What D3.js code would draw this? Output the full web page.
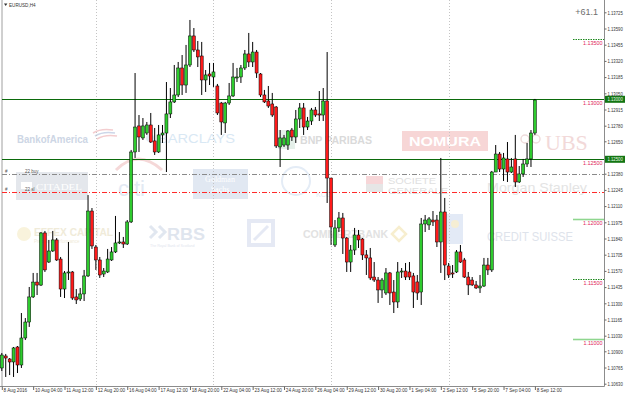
<!DOCTYPE html>
<html><head><meta charset="utf-8">
<script src="https://cdn.jsdelivr.net/npm/d3@7"></script>
<style>
body{margin:0;background:#fff;}
svg{display:block;font-family:"Liberation Sans",Arial,sans-serif;}
</style>
</head><body>
<svg id="chart" width="625" height="397"></svg>
<script>
// ---------- data (EURUSD H4, bar 0 = 8 Aug 2016 20:00) ----------
const opens = [
1.10761,1.10861,1.10836,1.10811,1.10936,1.10786,1.11011,1.11144,1.11353,1.11477,
1.11452,1.11886,1.11644,1.11736,1.11828,1.11669,1.11419,1.11553,1.11561,1.11353,
1.11336,1.11378,1.11528,1.12069,1.11769,1.11661,1.11544,1.11561,1.11661,1.11728,
1.11803,1.11811,1.11794,1.11978,1.12561,1.12778,1.12678,1.12719,1.12786,1.12653,
1.12561,1.12703,1.12719,1.12878,1.12978,1.13036,1.13261,1.13119,1.13286,1.13528,
1.13411,1.13361,1.13161,1.13211,1.13186,1.13111,1.12969,1.12803,1.12969,1.13028,
1.13178,1.13186,1.13261,1.13378,1.13311,1.13394,1.13211,1.13036,1.12986,1.12961,
1.12936,1.12603,1.12619,1.12619,1.12744,1.12686,1.12836,1.12928,1.12769,1.12819,
1.12911,1.12878,1.12869,1.12986,1.12344,1.11786,1.11928,1.12011,1.11844,1.11644,
1.11744,1.11869,1.11836,1.11703,1.11678,1.11519,1.11494,1.11411,1.11386,1.11553,
1.11394,1.11311,1.11561,1.11569,1.11561,1.11528,1.11478,1.11394,1.11961,1.11953,
1.11994,1.11994,1.11811,1.12061,1.11611,1.11553,1.11561,1.11728,1.11661,1.11519,
1.11494,1.11453,1.11428,1.11444,1.11619,1.11578,1.12394,1.12544,1.12419,1.12503,
1.12394,1.12503,1.12311,1.12378,1.12461,1.12503,1.12719];
const highs = [
1.10886,1.10878,1.10844,1.10936,1.10944,1.11219,1.11177,1.11436,1.11553,1.11553,
1.11894,1.11903,1.11828,1.11903,1.11844,1.11686,1.11569,1.11811,1.11569,1.11419,
1.11428,1.11578,1.12202,1.12094,1.11786,1.11686,1.11594,1.11753,1.11769,1.12028,
1.11894,1.11853,1.11994,1.12578,1.13219,1.12869,1.12844,1.12811,1.12886,1.12761,
1.12786,1.12786,1.13144,1.13094,1.13286,1.13311,1.13369,1.13453,1.13661,1.13594,
1.13486,1.13478,1.13244,1.13303,1.13303,1.13128,1.12978,1.12978,1.13136,1.13303,
1.13261,1.13286,1.13411,1.13553,1.13478,1.13411,1.13219,1.13078,1.13111,1.13053,
1.12944,1.12744,1.12703,1.12744,1.12761,1.12911,1.12969,1.12969,1.12853,1.12928,
1.12936,1.13069,1.13094,1.13394,1.12344,1.11994,1.12061,1.12053,1.11853,1.11786,
1.11928,1.11911,1.11844,1.11744,1.11761,1.11644,1.11519,1.11511,1.11594,1.11561,
1.11494,1.11644,1.11594,1.11636,1.11644,1.11553,1.11536,1.12011,1.12036,1.12019,
1.12069,1.12036,1.12511,1.12178,1.11636,1.11619,1.11744,1.11786,1.11678,1.11561,
1.11519,1.11486,1.11536,1.11678,1.11678,1.12403,1.12619,1.12561,1.12553,1.12644,
1.12511,1.12703,1.12444,1.12503,1.12636,1.12744,1.13003];
const lows = [
1.10736,1.10686,1.10702,1.10686,1.10719,1.10761,1.10994,1.11103,1.11344,1.11369,
1.11444,1.11561,1.11636,1.11728,1.11653,1.11353,1.11344,1.11494,1.11328,1.11294,
1.11319,1.11319,1.11519,1.11753,1.11578,1.11511,1.11519,1.11553,1.11653,1.11719,
1.11794,1.11761,1.11786,1.11969,1.12511,1.12561,1.12661,1.12703,1.12636,1.12536,
1.12553,1.12636,1.12394,1.12844,1.12969,1.13019,1.13036,1.13053,1.13269,1.13394,
1.13269,1.13036,1.13061,1.13119,1.13103,1.12869,1.12703,1.12719,1.12953,1.13019,
1.13144,1.13136,1.13244,1.13269,1.13269,1.13178,1.13019,1.12969,1.12928,1.12853,
1.12594,1.12436,1.12603,1.12578,1.12653,1.12636,1.12761,1.12703,1.12744,1.12786,
1.12853,1.12819,1.12819,1.12136,1.11786,1.11769,1.11894,1.11711,1.11561,1.11561,
1.11703,1.11761,1.11661,1.11536,1.11494,1.11478,1.11303,1.11344,1.11369,1.11286,
1.11219,1.11261,1.11511,1.11494,1.11494,1.11261,1.11328,1.11286,1.11894,1.11911,
1.11944,1.11769,1.11553,1.11494,1.11511,1.11511,1.11553,1.11636,1.11511,1.11369,
1.11444,1.11419,1.11386,1.11436,1.11536,1.11561,1.12394,1.12394,1.12319,1.12311,
1.12386,1.12269,1.12303,1.12353,1.12436,1.12436,1.12703];
const closes = [
1.10869,1.10844,1.10811,1.10928,1.10786,1.11011,1.11144,1.11353,1.11477,1.11452,
1.11886,1.11578,1.11736,1.11828,1.11661,1.11419,1.11553,1.11561,1.11344,1.11328,
1.11378,1.11528,1.12069,1.11778,1.11661,1.11536,1.11569,1.11669,1.11728,1.11803,
1.11811,1.11794,1.11978,1.12561,1.12769,1.12686,1.12778,1.12786,1.12644,1.12561,
1.12703,1.12719,1.12878,1.12978,1.13036,1.13261,1.13119,1.13286,1.13528,1.13411,
1.13353,1.13161,1.13203,1.13194,1.13228,1.12886,1.12811,1.12969,1.13028,1.13186,
1.13186,1.13261,1.13378,1.13311,1.13394,1.13219,1.13036,1.12978,1.12944,1.12869,
1.12611,1.12678,1.12678,1.12736,1.12686,1.12836,1.12928,1.12769,1.12819,1.12911,
1.12869,1.12869,1.12986,1.12344,1.11936,1.11928,1.12011,1.11844,1.11644,1.11744,
1.11869,1.11828,1.11703,1.11678,1.11511,1.11494,1.11411,1.11494,1.11553,1.11386,
1.11311,1.11561,1.11569,1.11519,1.11519,1.11394,1.11386,1.11961,1.11994,1.12003,
1.11978,1.11811,1.12061,1.11619,1.11536,1.11544,1.11728,1.11644,1.11519,1.11453,
1.11453,1.11428,1.11444,1.11619,1.11578,1.12394,1.12544,1.12419,1.12511,1.12394,
1.12436,1.12311,1.12378,1.12461,1.12503,1.12719,1.12994];

const xTickLabels = ["8 Aug 2016","10 Aug 04:00","11 Aug 12:00","12 Aug 20:00","16 Aug 04:00",
  "17 Aug 12:00","18 Aug 20:00","22 Aug 04:00","23 Aug 12:00","24 Aug 20:00","26 Aug 04:00",
  "29 Aug 12:00","30 Aug 20:00","1 Sep 04:00","2 Sep 12:00","5 Sep 20:00","7 Sep 04:00","8 Sep 12:00"];
const xTickBars = [0,8,16,24,32,40,48,56,64,72,80,88,96,104,112,120,128,136];
const gridBars = [24,54,84,114];

const yTickValues = [1.13725,1.13590,1.13455,1.13320,1.13185,1.13050,1.12915,1.12780,1.12650,1.12515,
  1.12380,1.12245,1.12110,1.11975,1.11840,1.11705,1.11570,1.11435,1.11300,1.11165,1.11030,1.10900,1.10765,1.10630];

const mainLevels = [1.13000, 1.12500];           // horizontal lines + axis boxes
const targetLevels = [1.13500, 1.12000, 1.11500, 1.11000];
const targetDashed = [true, false, true, false];
const orderLevels = [1.12375, 1.12225];          // "22 buy", "22 sl"
const orderNames = ["22 buy", "22 sl"];
const orderColors = ["#8a8a8a", "#ff2a2a"];
const profitText = "+61.1";
const symbolText = "EURUSD,H4";

// ---------- layout ----------
const W = 625, H = 397, plotRight = 604.5, plotBottom = 386.5, plotLeft = 2;
const svg = d3.select("#chart");
const x = d3.scaleLinear().domain([0, 136]).range([1.8, 534.9]);
const y = d3.scaleLinear().domain([1.125, 1.13]).range([159.3, 99.3]);

svg.append("rect").attr("width", W).attr("height", H).attr("fill", "#ffffff");

// ---------- faint broker watermarks ----------
const wm = svg.append("g").attr("class", "watermarks");
function wtext(t, xx, yy, size, color, opts = {}) {
  const el = wm.append("text").attr("x", xx).attr("y", yy).text(t)
    .attr("font-size", size).attr("fill", color)
    .attr("font-weight", opts.weight || "bold")
    .attr("font-family", opts.family || "Liberation Sans, Arial, sans-serif");
  if (opts.len) el.attr("textLength", opts.len).attr("lengthAdjust", "spacingAndGlyphs");
  if (opts.anchor) el.attr("text-anchor", opts.anchor);
  return el;
}
// Bank of America
wtext("BankofAmerica", 17, 143, 10.5, "#cdd6e5", {len: 71});
[0,1,2].forEach(k => wm.append("path").attr("d", `M${93 + k*2},${133 + k*3} q8,-5 20,-3`)
  .attr("stroke", k === 1 ? "#ccd6e8" : "#f3cdcf").attr("stroke-width", 1.6).attr("fill", "none"));
// Barclays
wtext("BARCLAYS", 158, 143, 13, "#d9e8f4", {weight: "normal", len: 77});
wm.append("circle").attr("cx", 150).attr("cy", 138).attr("r", 4).attr("fill", "#e0ebf5");
// BNP Paribas
wm.append("rect").attr("x", 278).attr("y", 130).attr("width", 17).attr("height", 19).attr("fill", "#e5f0ea");
wtext("BNP PARIBAS", 300, 144, 10.5, "#dadada", {len: 72});
// Nomura
wm.append("rect").attr("x", 402).attr("y", 131).attr("width", 86).attr("height", 20).attr("fill", "#f7d6d6");
wtext("NOMURA", 445, 146, 13.5, "#ffffff", {anchor: "middle", len: 72});
// UBS
wm.append("circle").attr("cx", 525).attr("cy", 139).attr("r", 4).attr("fill", "none").attr("stroke", "#efdcdc").attr("stroke-width", 1.5);
wm.append("circle").attr("cx", 536).attr("cy", 139).attr("r", 4).attr("fill", "none").attr("stroke", "#efdcdc").attr("stroke-width", 1.5);
wtext("UBS", 545, 150, 22, "#f2d9d9", {weight: "normal", family: "Liberation Serif, serif"});
// Citadel
wm.append("rect").attr("x", 16).attr("y", 172).attr("width", 72).attr("height", 28).attr("fill", "#e4e7ec");
wtext("CITADEL", 36, 190, 8.5, "#ffffff", {weight: "normal", family: "Liberation Serif, serif", len: 46});
wm.append("rect").attr("x", 21).attr("y", 182).attr("width", 11).attr("height", 7).attr("fill", "#ffffff");
// Citi
wm.append("path").attr("d", "M116,170 Q138,148 162,170").attr("stroke", "#f5d8d8").attr("stroke-width", 3).attr("fill", "none");
wtext("citi", 118, 196, 22, "#e2e9f3", {weight: "normal"});
// Goldman Sachs
wm.append("rect").attr("x", 193).attr("y", 169).attr("width", 55).attr("height", 30).attr("fill", "#e1e8f2");
wtext("Goldman", 220, 182, 8, "#ffffff", {weight: "normal", family: "Liberation Serif, serif", anchor: "middle"});
wtext("Sachs", 220, 192, 8, "#ffffff", {weight: "normal", family: "Liberation Serif, serif", anchor: "middle"});
// KCG
wm.append("circle").attr("cx", 296).attr("cy", 181).attr("r", 14).attr("fill", "none").attr("stroke", "#e4ecf6").attr("stroke-width", 2);
wtext("KCG", 316, 197, 7, "#e4eaf3", {weight: "normal"});
// Societe Generale
wm.append("rect").attr("x", 366).attr("y", 176).attr("width", 17).attr("height", 8).attr("fill", "#f7d6d8");
wm.append("rect").attr("x", 366).attr("y", 184).attr("width", 17).attr("height", 8).attr("fill", "#e6e6e6");
wtext("SOCIETE", 388, 184, 8.5, "#e0e0e0", {weight: "normal", len: 48});
wtext("GENERALE", 388, 194, 8.5, "#e0e0e0", {weight: "normal", len: 60});
// Morgan Stanley
wtext("Morgan Stanley", 487, 192, 13, "#e4e4e4", {weight: "normal", len: 100});
// Effex Capital
wm.append("circle").attr("cx", 24).attr("cy", 234).attr("r", 7).attr("fill", "#f9f3dc");
wtext("EFFEX CAPITAL", 34, 236, 10, "#f0ebd9", {len: 79});
wtext("Precision Performance", 34, 243, 4.5, "#f0ebd9", {weight: "normal"});
// RBS
wm.append("path").attr("d", "M150,226 l6,6 l-6,6 m9,-12 l6,6 l-6,6").attr("stroke", "#e1e7f0").attr("stroke-width", 3).attr("fill", "none");
wtext("RBS", 167, 240, 16, "#dfe5ee", {len: 38});
wtext("The Royal Bank of Scotland", 150, 247, 3.6, "#dfe5ee", {weight: "normal"});
// Deutsche Bank
wm.append("rect").attr("x", 247).attr("y", 219).attr("width", 28).attr("height", 28).attr("fill", "#e5e9f4");
wm.append("rect").attr("x", 251).attr("y", 223).attr("width", 20).attr("height", 20).attr("fill", "#ffffff");
wm.append("line").attr("x1", 254).attr("y1", 240).attr("x2", 268).attr("y2", 226).attr("stroke", "#e5e9f4").attr("stroke-width", 3);
// Commerzbank
wtext("COMMERZBANK", 303, 238, 10, "#e2e2e2", {len: 85});
wm.append("path").attr("d", "M392,234 l7,-7 l7,7 l-7,7 z").attr("fill", "none").attr("stroke", "#f7eecf").attr("stroke-width", 2.5);
// RBC
wm.append("rect").attr("x", 447).attr("y", 214).attr("width", 16).attr("height", 30).attr("fill", "#e3eaf6");
wm.append("circle").attr("cx", 455).attr("cy", 224).attr("r", 4).attr("fill", "#f5eed4");
// Credit Suisse
wtext("CREDIT SUISSE", 487, 241, 12, "#dee3eb", {weight: "normal", len: 86});

// ---------- frame & grid ----------
svg.append("line").attr("x1", plotLeft).attr("x2", plotLeft).attr("y1", 0).attr("y2", plotBottom)
  .attr("stroke", "#a0a0a0").attr("stroke-width", 1);
svg.append("g").selectAll("line").data(gridBars).join("line")
  .attr("x1", d => Math.round(x(d)) + 0.5).attr("x2", d => Math.round(x(d)) + 0.5)
  .attr("y1", 0).attr("y2", plotBottom)
  .attr("stroke", "#c4c4c4").attr("stroke-width", 1).attr("stroke-dasharray", "1,2");

// order lines
orderLevels.forEach((lv, k) => {
  const yy = Math.round(y(lv)) + 0.5;
  svg.append("line").attr("x1", plotLeft).attr("x2", plotRight).attr("y1", yy).attr("y2", yy)
    .attr("stroke", orderColors[k]).attr("stroke-width", 1).attr("stroke-dasharray", "5,2,1,2");
  svg.append("text").attr("x", 5).attr("y", yy - 1.5).text("#").attr("font-size", 4.5).attr("fill", "#555");
  svg.append("text").attr("x", 25).attr("y", yy - 1.5).text(orderNames[k]).attr("font-size", 4.5).attr("fill", "#555");
});

// main horizontal levels
mainLevels.forEach(lv => {
  const yy = Math.round(y(lv)) + 0.5;
  svg.append("line").attr("x1", plotLeft).attr("x2", plotRight).attr("y1", yy).attr("y2", yy)
    .attr("stroke", "#0b6a0b").attr("stroke-width", 1.1);
});

// target short lines
targetLevels.forEach((lv, k) => {
  const yy = Math.round(y(lv)) + 0.5;
  svg.append("line").attr("x1", 573).attr("x2", plotRight).attr("y1", yy).attr("y2", yy)
    .attr("stroke", targetDashed[k] ? "#1f8a1f" : "#8fd68f")
    .attr("stroke-width", targetDashed[k] ? 1 : 1.6)
    .attr("stroke-dasharray", targetDashed[k] ? "1.5,1" : null);
});
[...mainLevels, ...targetLevels].forEach(lv => {
  svg.append("text").attr("x", 602.5).attr("y", y(lv) + 6).text(lv.toFixed(5))
    .attr("text-anchor", "end").attr("font-size", 5.4).attr("fill", "#e0245a");
});

// ---------- candles ----------
const idx = d3.range(opens.length);
const cg = svg.append("g");
cg.selectAll("line.wick").data(idx).join("line").attr("class", "wick")
  .attr("x1", i => x(i)).attr("x2", i => x(i))
  .attr("y1", i => y(highs[i])).attr("y2", i => y(lows[i]))
  .attr("stroke", "#000").attr("stroke-width", 1);
cg.selectAll("rect.body").data(idx).join("rect").attr("class", "body")
  .attr("x", i => x(i) - 1.5).attr("width", 3)
  .attr("y", i => y(Math.max(opens[i], closes[i])))
  .attr("height", i => Math.max(1, Math.abs(y(opens[i]) - y(closes[i]))))
  .attr("fill", i => closes[i] >= opens[i] ? "#2ecb2e" : "#ff1a1a")
  .attr("stroke", "#000").attr("stroke-width", 0.5);

// ---------- axes ----------
svg.append("line").attr("x1", plotRight).attr("x2", plotRight).attr("y1", 0).attr("y2", plotBottom)
  .attr("stroke", "#8c8c8c");
svg.append("line").attr("x1", 0).attr("x2", plotRight).attr("y1", plotBottom).attr("y2", plotBottom)
  .attr("stroke", "#8c8c8c");

// right price axis (labels hidden under the highlighted boxes are skipped)
const visibleY = yTickValues.filter(v => mainLevels.every(m => Math.abs(y(v) - y(m)) > 4.5));
const yAxis = d3.axisRight(y).tickValues(visibleY).tickSize(2).tickFormat(d => d.toFixed(5));
const gy = svg.append("g").attr("transform", `translate(${plotRight},0)`).call(yAxis);
gy.select(".domain").remove();
gy.selectAll(".tick line").attr("stroke", "#666");
gy.selectAll(".tick text").attr("font-size", 5.3).attr("fill", "#333")
  .attr("font-family", "Liberation Sans, Arial, sans-serif")
  .attr("x", 0).attr("dy", "0.32em")
  .attr("transform", "translate(3,0) scale(0.8,1)");

const xAxis = d3.axisBottom(x).tickValues(xTickBars).tickSize(3.5).tickPadding(0)
  .tickFormat((d, i) => xTickLabels[i]);
const gx = svg.append("g").attr("transform", `translate(0,${plotBottom})`).call(xAxis);
gx.select(".domain").remove();
gx.selectAll(".tick line").attr("stroke", "#666");
gx.selectAll(".tick text").attr("font-size", 5.3).attr("fill", "#333")
  .attr("font-family", "Liberation Sans, Arial, sans-serif")
  .attr("text-anchor", "start").attr("x", 1.5).attr("y", 2.2)
  .attr("transform", "scale(0.88,1)");

// highlighted axis boxes
mainLevels.forEach(lv => {
  const yy = y(lv);
  svg.append("rect").attr("x", 605).attr("y", yy - 3.5).attr("width", 20).attr("height", 7).attr("fill", "#137513");
  svg.append("text").attr("x", 0).attr("y", 0).text(lv.toFixed(5))
    .attr("transform", `translate(607.5,${yy + 1.9}) scale(0.8,1)`)
    .attr("font-size", 5.3).attr("fill", "#e8ffe8");
});

// ---------- texts ----------
svg.append("text").attr("x", 598).attr("y", 15).text(profitText).attr("text-anchor", "end")
  .attr("font-size", 9).attr("fill", "#6e6e6e");
svg.append("path").attr("d", "M4,3.5 l3.4,0 l-1.7,2.4 z").attr("fill", "#333");
svg.append("text").attr("x", 9).attr("y", 6.7).text(symbolText).attr("font-size", 4.6).attr("fill", "#333");
</script>
</body></html>
